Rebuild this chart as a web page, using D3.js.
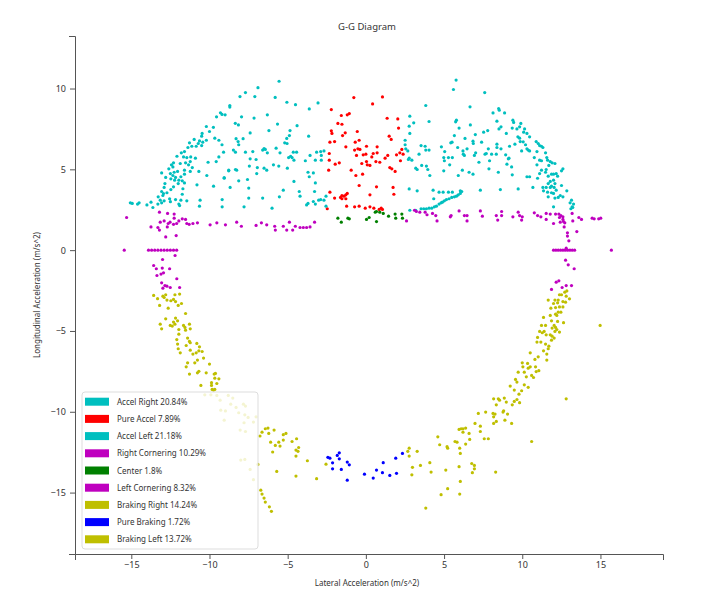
<!DOCTYPE html>
<html>
<head>
<meta charset="utf-8">
<script src="https://cdn.jsdelivr.net/npm/d3@7"></script>
<style>
  body { margin: 0; background: #fff; }
  text { font-family: "Noto Sans", "Open Sans", sans-serif; }
  .axis path, .axis line { stroke: #555; }
  .axis text { fill: #333; font-size: 9px; }
</style>
</head>
<body>
<div id="chart"></div>
<script>
// tick labels and legend labels
const xTicks = [-15, -10, -5, 0, 5, 10, 15];
const yTicks = [-15, -10, -5, 0, 5, 10];
const seriesNames = ["Accel Right 20.84%", "Pure Accel 7.89%", "Accel Left 21.18%", "Right Cornering 10.29%",
    "Center 1.8%", "Left Cornering 8.32%", "Braking Right 14.24%", "Pure Braking 1.72%", "Braking Left 13.72%"];
const seriesColors = ["#00bfbf", "#ff0000", "#00bfbf", "#bf00bf", "#008000", "#bf00bf", "#bfbf00", "#0000ff", "#bfbf00"];

// [lateral, longitudinal] in m/s^2
const accelRight = [
[3.83,8.95],[4.04,7.96],[2.81,8.29],[3.06,7.88],[2.77,7.67],[2.81,7.22],[2.51,6.8],[2.51,6.52],[2.55,6.27],[2.68,6.14],[2.77,5.69],[2.72,5.61],[2.94,5.57],[3.19,5.07],[3.28,4.99],[3.57,5.24],[3.87,5.2],[3.96,4.99],[3.53,6.47],[3.79,6.43],[3.83,6.19],[4.04,6.19],[3.4,5.94],[2.77,3.79],[3.28,3.67],
[2.81,2.47],[3.19,2.47],[3.53,2.56],[3.7,2.56],[3.87,2.56],[4.04,2.6],[4.21,2.6],[4.38,2.68],[4.51,2.72],[4.68,2.85],[4.81,2.93],[4.89,2.97],[5.02,3.05],[5.15,3.13],[5.32,3.18],[5.49,3.26],[5.66,3.3],[5.79,3.34],[5.91,3.42],[6.04,3.51],[6.13,3.63],
[5.77,10.52],[5.6,9.94],[7.6,9.75],[6.66,8.87],[8.13,8.49],[8.49,8.76],[8.53,8.66],[8.87,8.49],[5.79,8.04],[5.74,7.94],[6.68,7.75],[5.96,7.55],[8.38,7.98],[9.4,8.04],[9.45,7.9],[9.91,7.84],[9.36,7.55],[5.66,7.09],[6.34,6.91],[7.0,7.15],[7.53,7.3],[7.79,7.4],[8.51,7.5],[8.64,7.63],[8.98,7.22],[9.66,7.5],[9.83,7.63],[9.72,7.01],[10.09,7.3],[10.3,7.22],[10.47,7.01],[10.15,7.5],[10.06,6.7],
[4.83,6.39],[5.51,6.68],[5.43,6.64],[5.87,6.35],[6.21,6.14],[6.23,5.94],[6.85,6.74],[6.87,6.6],[7.4,6.68],[7.83,6.27],[7.7,5.98],[8.04,5.94],[8.38,6.56],[8.38,6.35],[8.64,6.27],[9.19,6.43],[8.94,5.9],[9.11,5.65],[9.53,6.56],[9.83,6.93],[9.87,6.72],[10.21,6.52],[10.38,6.19],[10.3,6.27],[10.47,6.14],[9.96,6.14],
[10.89,6.72],[11.02,6.6],[11.11,6.47],[11.23,6.43],[11.32,6.35],[10.94,6.1],[10.77,5.73],[11.11,5.57],[11.23,5.53],[11.49,6.02],[11.57,5.73],[11.62,5.57],[11.79,5.48],[11.91,5.4],[12.09,5.36],[11.7,5.24],[11.53,4.99],[10.94,5.28],[11.23,4.95],[10.47,4.54],[9.32,5.15],[9.36,4.66],[9.74,3.79],[8.6,3.75],[10.3,4.54],[10.68,3.88],[10.98,4.45],[11.11,4.74],[11.49,4.82],[11.66,4.58],[11.87,4.7],[12.0,4.7],[12.17,4.74],[12.26,4.58],[12.6,5.03],[12.51,4.91],[12.0,4.33],[11.79,4.25],[11.66,4.12],[12.09,4.12],[11.87,3.96],[12.04,3.88],[11.53,3.88],[11.79,3.88],[12.17,3.71],[12.51,4.0],[11.32,3.88],[11.62,3.59],[11.87,3.55],[12.0,3.51],[12.43,3.38],[12.6,3.3],[12.09,3.22],[12.3,3.26],[11.66,3.3],[12.85,3.67],[13.15,3.09],[13.06,2.93],[13.28,2.85],[13.19,2.68],[13.11,2.56],[13.23,2.64],[12.0,2.68],[11.36,3.67],
[5.04,6.1],[4.98,5.73],[5.02,5.53],[5.28,5.73],[5.53,5.73],[5.36,5.28],[4.98,4.91],[6.17,4.95],[5.91,4.62],[6.6,4.82],[6.85,4.7],[7.32,3.71],[4.09,4.62],[4.3,3.71],[4.68,3.59],[4.94,3.59],[5.28,3.59],[5.53,3.59],[6.04,3.67],[4.34,3.18],
[6.3,5.86],[6.94,5.86],[7.23,5.44],[7.87,5.03],[8.47,4.82],[9.02,5.32],[9.15,5.69],[8.34,5.94],[7.62,5.94],[6.47,6.27],[7.02,6.02],[7.91,5.53]
];

const pureAccel = [
[-0.77,9.44],[1.06,9.48],[-2.21,8.7],[0.43,9.05],[-1.57,8.33],[-1.19,8.37],[-1.06,8.45],[-1.79,7.84],[-1.53,7.79],[1.36,8.16],[2.04,8.12],[2.09,7.55],[-1.32,7.26],[-1.49,7.09],[-2.21,7.38],[-2.17,7.22],[-0.55,7.34],
[-2.3,6.68],[-2.0,6.72],[-0.43,6.8],[-0.68,6.68],[-1.28,6.39],[-0.72,6.19],[-0.51,6.27],[-0.38,6.23],[0.04,6.43],[0.72,6.39],[1.49,7.05],[1.62,6.85],[2.3,6.23],[2.17,6.02],[2.38,5.94],[1.96,5.9],[1.4,5.86],[1.23,5.69],[0.72,6.02],[0.47,5.98],[0.38,5.77],[0.0,5.94],[-0.17,5.9],[-0.6,5.86],[-2.34,5.98],[-1.7,5.4],[-1.96,5.32],[-2.34,5.57],[-2.38,4.95],[-0.94,4.95],[-0.64,4.62],[-0.26,5.36],[0.04,5.48],[0.09,5.28],[0.26,5.24],[0.64,5.48],[0.89,5.44],[1.53,5.11],[1.66,5.03],[1.87,4.87],[-0.21,4.7],[-0.43,4.0],[0.26,3.42],[0.68,3.92],[1.74,3.88],[1.79,3.46],[-2.3,3.59],[-2.0,3.22],[-1.62,3.26],[-1.53,3.38],[-1.4,3.34],[-1.28,3.42],[-1.19,3.51],[-1.53,3.18],[-1.28,3.18],[-1.23,2.72],[-0.72,2.68],[-0.43,2.72],[-0.04,2.6],[0.26,2.68],[0.51,2.6],[0.85,2.52],[1.06,2.52],[0.98,2.6],[-2.47,2.56],[2.21,5.53]
];

const accelLeft = [
[-10.0,7.34],[-10.47,7.22],[-10.5,7.05],[-10.98,6.85],[-10.64,6.76],[-10.72,6.6],[-10.43,6.68],[-10.2,6.8],[-11.28,6.64],[-11.13,6.43],[-11.38,6.35],[-10.85,6.43],[-10.5,6.47],[-11.6,6.1],[-11.8,6.02],[-12.08,5.81],[-11.66,5.77],[-11.45,5.73],[-11.2,5.77],[-10.9,5.69],[-12.3,5.4],[-12.43,5.28],[-12.34,5.15],[-11.87,5.36],[-11.53,5.4],[-11.23,5.48],[-11.34,5.28],[-12.6,5.03],[-13.06,4.78],[-12.5,4.74],[-12.26,4.82],[-12.04,4.87],[-12.34,4.62],[-11.6,4.95],[-11.6,4.7],[-11.23,4.87],[-11.1,5.11],[-12.8,4.5],[-12.47,4.41],[-12.17,4.5],[-11.96,4.33],[-11.74,4.29],[-11.6,4.16],[-12.0,4.12],[-12.23,4.33],[-11.83,4.54],[-12.85,4.12],[-12.9,3.88],[-13.06,3.63],[-12.94,3.5],[-12.98,3.38],[-12.72,3.55],[-12.47,3.75],[-12.3,3.92],[-11.7,3.8],[-11.74,3.46],[-13.28,3.3],[-13.15,3.09],[-12.9,3.05],[-12.55,3.18],[-12.5,3.0],[-12.17,3.13],[-11.83,3.09],[-11.45,3.05],[-11.91,2.76],[-11.96,2.85],[-13.74,2.97],[-14.0,2.8],[-13.62,2.64],[-13.3,2.85],[-13.06,2.93],[-15.06,2.93],[-14.94,2.89],[-14.6,2.85],[-14.5,2.93],
[-10.68,4.87],[-10.09,5.44],[-9.57,5.48],[-9.4,5.77],[-9.1,6.06],[-9.2,6.52],[-9.4,6.8],[-9.66,6.93],[-8.47,6.19],[-8.13,6.52],[-8.77,4.91],[-8.34,4.99],[-8.13,4.29],[-8.68,3.88],[-9.74,3.96],[-9.19,3.13],[-9.19,2.68],[-10.6,3.09],[-10.64,2.72],[-10.8,4.04],[-10.17,4.62],[-9.06,4.49],
[-5.55,10.45],[-6.9,10.05],[-7.7,9.75],[-8.05,9.5],[-7.1,9.5],[-5.8,9.45],[-5.05,9.15],[-4.5,9.0],[-8.7,8.95],[-8.7,8.85],[-9.3,8.5],[-9.55,8.25],[-9.2,8.4],[-9.0,8.37],[-7.95,8.25],[-8.35,7.85],[-8.15,7.75],[-6.3,8.37],[-7.15,8.17],[-5.65,7.8],[-4.4,7.7],[-4.85,7.4],[-6.2,7.4],[-7.4,7.25],[-7.85,6.9],[-8.3,6.9],[-10.2,7.65],[-9.75,7.6],
[-5.06,6.91],[-4.89,7.09],[-5.04,6.6],[-5.19,6.64],[-5.74,6.31],[-6.51,6.29],[-6.6,6.19],[-6.43,6.23],[-6.3,6.02],[-7.7,6.06],[-7.23,6.1],[-5.49,6.02],[-4.81,5.81],[-4.43,6.06],[-4.64,6.06],[-4.72,5.73],[-4.94,5.73],[-7.4,5.65],[-7.02,5.61],[-7.45,5.2],[-6.98,4.74],[-7.57,4.37],[-7.49,3.84],[-6.94,5.11],[-6.51,5.07],[-6.34,4.95],[-5.91,5.28],[-5.57,5.2],[-5.02,5.07],[-4.6,5.57],[-4.6,4.25],[-4.26,3.63],[-5.28,3.71],[-5.53,3.3],[-6.6,3.22],[-7.49,3.22],[-7.79,2.68],[-6.0,2.6],[-9.06,4.45],[-8.77,4.95],[-8.26,4.95],[-8.34,6.06],[-8.17,6.72],
[-3.62,8.74],[-3.06,9.11],[-3.66,7.05],[-3.87,5.53],[-3.57,5.86],[-3.23,5.57],[-3.15,6.06],[-2.89,6.1],[-2.85,5.86],[-2.68,6.14],[-2.85,5.57],[-3.7,4.82],[-3.36,4.78],[-3.62,4.54],[-3.23,4.16],[-3.28,3.63],[-4.21,3.34],[-3.7,2.89],[-3.79,2.8],[-3.36,3.01],[-3.23,2.85],[-3.02,3.09],[-2.89,3.13],[-2.68,3.09],[-2.55,3.34],[-2.55,2.72]
];

const rightCornering = [
[2.6,1.81],[3.11,2.47],[3.23,2.39],[3.45,2.35],[3.79,2.35],[3.91,2.19],
[4.26,2.27],[4.55,1.81],[4.47,2.14],[5.45,2.14],[5.4,2.06],[5.96,2.43],[6.3,2.14],[6.47,2.14],[6.47,1.81],[7.32,2.43],[7.45,2.1],[8.34,2.14],[8.43,1.86],[8.68,2.14],[8.68,2.39],[9.4,2.06],[9.74,2.35],[9.83,2.14],[10.0,2.06],[9.96,1.86],[10.77,2.31],[10.98,2.14],[11.19,2.06],[11.53,2.27],[11.53,1.9],[11.79,2.23],[12.0,1.65],[12.13,2.23],[12.34,2.23],[12.47,2.14],[12.6,2.06],[12.64,1.77],[12.38,2.02],[12.43,1.73],[12.6,1.9],
[12.72,1.69],[12.68,1.44],[12.89,1.07],[12.89,0.87],[12.98,0.58],[13.19,2.27],[13.23,1.81],[13.49,1.15],[13.62,2.02],[13.79,1.9],[14.47,1.98],[14.6,1.94],[14.89,1.94],[15.02,1.98],
[12.0,0],[12.15,0],[12.3,0],[12.45,0],[12.6,0],[12.75,0],[12.81,0.12],[12.9,0],[13.05,0],[13.2,0],[13.35,0],[15.7,0],
[12.77,-0.62],[12.94,-0.91],[13.32,-1.15],[12.34,-1.9],[12.17,-1.98],[11.87,-2.43],[12.55,-2.31],[12.81,-2.19],[13.15,-2.19]
];

const center = [
[-1.79,1.98],[-1.57,1.73],[-1.15,1.98],[-1.06,1.94],[0.04,1.9],[0.21,2.02],[0.68,1.77],[0.6,2.35],[0.68,2.39],[0.89,2.35],[1.11,2.27],[1.45,2.1],[1.87,2.23],[1.91,1.98],[2.3,2.23],[2.34,1.98]
];

const leftCornering = [
[-15.3,2.02],[-13.2,2.35],[-12.68,2.27],[-12.26,2.23],[-12.26,1.98],[-13.15,1.73],[-12.9,1.81],[-12.64,1.65],[-12.52,1.73],[-12.3,1.6],[-12.1,1.65],[-11.96,1.81],[-11.74,1.94],[-11.53,1.9],[-11.45,1.65],[-11.3,1.6],[-13.74,1.44],[-13.3,1.4],[-12.7,1.44],[-11.06,1.65],[-10.77,1.69],[-9.96,1.57],[-9.53,1.69],[-8.98,1.57],[-8.26,1.73],
[-7.96,1.48],[-7.02,1.53],[-6.68,1.69],[-6.34,1.57],[-5.83,1.48],[-5.79,1.24],[-5.28,1.48],[-5.06,1.24],[-4.89,1.73],[-4.68,1.24],[-4.51,1.48],[-4.21,1.4],[-4.0,1.4],[-3.79,1.4],[-3.57,1.44],[-3.28,1.73],
[-12.8,0.82],[-12.13,0.9],[-13.2,1.24],[-15.45,0],
[-13.9,0],[-13.7,0],[-13.5,0],[-13.3,0],[-13.1,0],[-12.9,0],[-12.7,0],[-12.5,0],[-12.3,0],[-12.1,0],
[-12.2,-0.33],[-13.0,-0.58],[-13.57,-0.95],[-13.4,-1.15],[-13.02,-1.11],[-12.55,-1.15],[-13.36,-1.57],[-13.1,-1.48],[-12.94,-1.4],[-12.09,-1.77],[-13.06,-2.02],[-12.85,-2.19],[-12.72,-2.23],[-12.98,-2.35],[-12.51,-2.31],[-11.91,-2.31]
];

const brakingRight = [
[2.68,-12.45],[2.77,-12.25],[3.28,-12.45],[2.77,-12.74],[2.98,-13.44],[2.94,-13.9],
[12.81,-9.2],[8.17,-9.2],[8.47,-9.2],[8.55,-9.28],[8.85,-9.15],[8.34,-9.57],[8.98,-9.4],[9.36,-9.57],[9.49,-9.36],[9.66,-9.24],[9.83,-9.44],[7.19,-10.1],[7.66,-10.02],[8.13,-10.1],[8.26,-10.14],[8.17,-10.31],[8.81,-9.94],[8.77,-10.02],[9.06,-10.14],[8.89,-10.52],[8.34,-10.6],[8.17,-10.72],[9.32,-10.72],[6.98,-10.72],[7.32,-10.89],[7.32,-11.22],[6.6,-11.34],[6.64,-11.71],[6.38,-12.0],[5.96,-11.09],[6.09,-11.05],[6.21,-11.05],[6.38,-11.01],[6.21,-11.26],[5.7,-11.84],[5.83,-11.88],[5.19,-12.16],[5.23,-12.25],[6.0,-12.25],[6.04,-12.58],[4.72,-12.04],[4.6,-11.55],[7.57,-11.67],[7.83,-11.67],[10.6,-11.84],[3.49,-13.32],[4.09,-13.15],[4.17,-13.73],[5.11,-13.61],[5.96,-13.4],[6.77,-13.2],[6.94,-13.32],[6.94,-13.53],[6.81,-13.77],[8.3,-13.73],[6.04,-14.31],[5.23,-14.76],[4.81,-15.13],[6.0,-15.09],[3.83,-15.96],
[12.85,-2.52],[12.72,-2.6],[12.51,-2.76],[12.38,-2.76],[12.3,-3.09],[12.81,-2.85],[13.02,-3.01],[11.66,-3.09],[12.09,-3.09],[12.0,-3.3],[12.26,-3.26],[12.6,-3.18],[12.77,-3.22],[11.83,-3.59],[12.13,-3.55],[12.38,-3.51],[12.6,-3.51],[12.3,-3.84],[12.47,-3.84],[12.21,-4.04],[12.13,-3.96],[11.79,-4.04],[11.36,-4.16],[12.64,-4.49],[12.26,-4.41],[11.87,-4.37],[11.23,-4.66],[11.49,-4.66],[12.04,-4.66],[11.91,-4.82],[12.13,-4.78],[12.21,-4.91],[12.09,-5.03],[12.38,-5.07],[11.28,-5.11],[11.4,-5.03],[11.11,-5.03],[11.53,-5.24],[11.79,-5.24],[11.91,-5.32],[12.04,-5.44],[11.87,-5.57],[10.98,-5.4],[11.19,-5.69],[10.94,-5.69],[11.49,-5.81],[11.7,-5.94],[11.36,-6.23],[11.66,-6.1],[11.57,-6.43],[11.57,-6.8],[14.98,-4.66],[10.51,-6.35],[11.02,-6.6],[10.81,-6.76],[10.0,-6.97],[10.34,-7.01],[10.04,-7.22],[10.51,-7.22],[10.85,-7.22],[11.06,-7.46],[10.38,-7.3],[10.89,-7.51],[9.74,-7.55],[10.13,-7.55],[10.6,-7.75],[10.72,-7.88],[10.26,-7.84],[9.57,-8.0],[9.66,-8.16],[10.13,-8.33],[10.38,-8.49],[9.96,-8.7],[9.79,-8.91],[9.49,-8.66],[9.23,-8.41]
];

const pureBraking = [
[-2.43,-12.82],[-2.3,-12.87],[-1.83,-12.7],[-1.7,-12.54],[-1.7,-12.91],[-2.13,-13.16],[-2.13,-13.53],[-1.57,-13.57],[-1.19,-13.11],[-1.06,-13.28],[-1.19,-14.23],[-0.09,-13.86],[0.47,-14.1],[0.68,-13.61],[1.11,-13.15],[1.06,-13.77],[1.53,-13.94],[1.96,-13.81],[1.91,-12.87],[2.34,-12.58]
];

const brakingLeft = [
[-13.57,-2.8],[-13.32,-3.0],[-12.98,-2.85],[-12.9,-2.93],[-12.8,-2.76],[-12.72,-3.09],[-12.47,-3.13],[-12.3,-3.05],[-12.17,-3.18],[-12.21,-2.76],[-11.91,-2.72],[-13.19,-3.42],[-12.64,-3.59],[-12.0,-3.42],[-11.79,-3.3],[-11.53,-3.92],[-12.8,-4.25],[-12.17,-4.2],[-13.15,-4.58],[-13.06,-4.87],[-12.51,-4.66],[-12.38,-4.7],[-12.21,-4.58],[-12.04,-4.37],[-12.3,-4.45],[-11.96,-4.91],[-11.57,-4.78],[-11.53,-4.95],[-11.28,-4.58],[-11.23,-4.87],[-11.66,-4.66],[-12.09,-5.53],[-11.96,-5.2],[-11.4,-5.44],[-11.23,-5.73],[-12.04,-5.81],[-12.0,-6.1],[-11.87,-6.35],[-11.49,-5.9],[-11.28,-5.65],[-10.81,-5.77],[-10.64,-5.98],[-11.23,-6.19],[-11.06,-6.43],[-10.85,-6.35],[-10.68,-6.23],[-10.47,-6.27],[-10.94,-6.97],[-11.4,-6.97],[-11.49,-7.22],[-10.77,-6.8],[-10.38,-6.68],[-11.28,-7.67],[-10.77,-7.59],[-10.68,-7.5],[-10.21,-7.59],[-10.0,-7.05],[-9.7,-7.67],[-9.62,-7.63],[-9.66,-7.92],[-9.4,-7.96],[-10.55,-8.37],[-9.87,-8.2],[-9.87,-8.37],[-9.53,-8.25],[-9.83,-8.62],[-9.66,-8.62],
[-10.3,-8.95],[-9.91,-8.95],[-9.53,-8.99],[-9.74,-8.66],[-8.8,-8.99],[-8.51,-9.15],[-9.32,-9.28],[-8.64,-9.53],[-8.3,-9.73],[-7.83,-9.53],[-7.7,-9.65],[-8.13,-10.06],[-7.74,-10.19],[-7.53,-10.35],[-7.02,-10.31],[-7.19,-10.64],[-7.79,-10.68],[-8.04,-11.13],[-7.7,-11.22],[-9.06,-10.52],[-8.98,-9.95],[-9.28,-9.9],[-8.0,-12.99],[-7.74,-12.95],[-7.4,-13.57],[-7.19,-14.2],[-6.9,-13.26],[-6.72,-14.85],[-6.64,-15.09],[-6.51,-15.34],[-6.43,-15.59],[-6.17,-15.88],[-6.04,-16.16],
[-6.77,-11.5],[-6.64,-11.26],[-6.43,-11.05],[-6.26,-11.01],[-6.21,-11.34],[-5.87,-11.13],[-6.09,-11.88],[-5.96,-12.49],[-5.79,-12.08],[-5.57,-11.88],[-5.49,-12.12],[-5.28,-11.42],[-5.11,-11.34],[-5.28,-11.75],[-4.72,-11.84],[-4.43,-11.67],[-4.47,-12.37],[-4.3,-12.21],[-4.34,-12.45],[-4.47,-12.74],[-5.7,-13.69],[-4.47,-13.98],[-3.74,-13.03],[-3.15,-14.14],[-2.55,-13.24]
];

const seriesPoints = [accelRight, pureAccel, accelLeft, rightCornering, center, leftCornering, brakingRight, pureBraking, brakingLeft];

const series = seriesNames.map((name, i) => ({ name: name, color: seriesColors[i], points: seriesPoints[i] }));

const W = 704, H = 599;
const plot = { left: 75, right: 663, top: 36, bottom: 554 };

const svg = d3.select("#chart").append("svg")
    .attr("width", W)
    .attr("height", H);

svg.append("rect").attr("width", W).attr("height", H).attr("fill", "#fff");

const x = d3.scaleLinear().domain([-18.6, 19.0]).range([plot.left, plot.right]);
const y = d3.scaleLinear().domain([-18.8, 13.25]).range([plot.bottom, plot.top]);

// axes
svg.append("g")
    .attr("class", "axis")
    .attr("transform", `translate(0,${plot.bottom})`)
    .call(d3.axisBottom(x).tickValues(xTicks).tickSize(5).tickSizeOuter(6).tickPadding(3));

svg.append("g")
    .attr("class", "axis")
    .attr("transform", `translate(${plot.left},0)`)
    .call(d3.axisLeft(y).tickValues(yTicks).tickSize(5).tickSizeOuter(6).tickPadding(4));

// points
series.forEach(s => {
    svg.append("g")
        .selectAll("circle")
        .data(s.points)
        .enter()
        .append("circle")
        .attr("cx", d => x(d[0]))
        .attr("cy", d => y(d[1]))
        .attr("r", 1.6)
        .attr("fill", s.color);
});

// title and axis labels
svg.append("text")
    .attr("x", (plot.left + plot.right) / 2 - 2)
    .attr("y", 30)
    .attr("text-anchor", "middle")
    .attr("font-size", "9.5px")
    .attr("fill", "#333")
    .text("G-G Diagram");

svg.append("text")
    .attr("x", (plot.left + plot.right) / 2 - 2)
    .attr("y", 586)
    .attr("text-anchor", "middle")
    .attr("font-size", "8px")
    .attr("fill", "#333")
    .text("Lateral Acceleration (m/s^2)");

svg.append("text")
    .attr("transform", `translate(40,${(plot.top + plot.bottom) / 2}) rotate(-90)`)
    .attr("text-anchor", "middle")
    .attr("font-size", "8px")
    .attr("fill", "#333")
    .text("Longitudinal Acceleration (m/s^2)");

// legend
const legend = svg.append("g").attr("transform", "translate(82,392)");

legend.append("rect")
    .attr("width", 176)
    .attr("height", 157)
    .attr("rx", 3)
    .attr("fill", "#fff")
    .attr("fill-opacity", 0.82)
    .attr("stroke", "#ddd");

const items = legend.selectAll(".legend-item")
    .data(series)
    .enter()
    .append("g")
    .attr("class", "legend-item")
    .attr("transform", (d, i) => `translate(3,${9.7 + i * 17.2})`);

items.append("rect")
    .attr("y", -4)
    .attr("width", 24)
    .attr("height", 8)
    .attr("fill", d => d.color);

items.append("text")
    .attr("x", 32)
    .attr("y", 3)
    .attr("font-size", "8px")
    .attr("fill", "#333")
    .text(d => d.name);
</script>
</body>
</html>
